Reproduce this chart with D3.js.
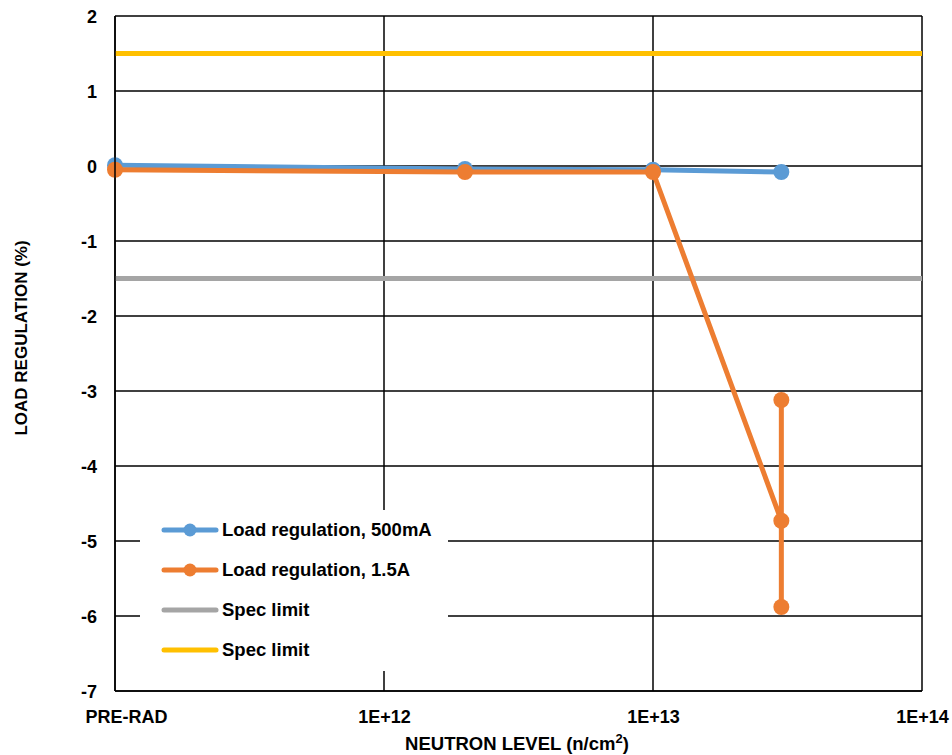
<!DOCTYPE html>
<html><head><meta charset="utf-8">
<script src="https://cdn.jsdelivr.net/npm/d3@7"></script>
<style>body{margin:0;background:#fff}svg{display:block}text{font-family:"Liberation Sans",Arial,sans-serif;font-weight:bold;fill:#000}</style>
</head><body><svg id="c" width="952" height="755"></svg>
<script>
const xTickValues = [1e11, 1e12, 1e13, 1e14];
const xTickLabels = ["PRE-RAD", "1E+12", "1E+13", "1E+14"];
const yTickValues = [2, 1, 0, -1, -2, -3, -4, -5, -6, -7];
const blueX = [1e11, 2e12, 1e13, 3e13];
const blueY = [0.01, -0.04, -0.05, -0.08];
const orangeX = [1e11, 2e12, 1e13, 3e13, 3e13, 3e13];
const orangeY = [-0.05, -0.08, -0.08, -4.73, -3.12, -5.88];
const specUpper = 1.5;
const specLower = -1.5;
const legendNames = ["Load regulation, 500mA", "Load regulation, 1.5A", "Spec limit", "Spec limit"];
const colors = ["#5b9bd5", "#ed7d31", "#a5a5a5", "#ffc000"];

const svg = d3.select("#c");
const L = 115, R = 922, T = 16, B = 691;
const x = d3.scaleLog().domain([1e11, 1e14]).range([L, R]);
const y = d3.scaleLinear().domain([-7, 2]).range([B, T]);
const FS = "18px";

// gridlines
svg.append("g").selectAll("line").data(yTickValues).join("line")
  .attr("x1", L).attr("x2", R).attr("y1", d => y(d)).attr("y2", d => y(d))
  .attr("stroke", "#000").attr("stroke-width", 1.5);
svg.append("g").selectAll("line").data(xTickValues).join("line")
  .attr("x1", d => x(d)).attr("x2", d => x(d)).attr("y1", T).attr("y2", B)
  .attr("stroke", "#000").attr("stroke-width", 1.5);

// axes labels
const yAxis = d3.axisLeft(y).tickValues(yTickValues).tickSize(0).tickPadding(18).tickFormat(d => String(d));
const ya = svg.append("g").attr("transform", `translate(${L},0)`).call(yAxis);
ya.select(".domain").remove();
ya.attr("font-size", null).attr("font-family", null);
ya.selectAll("text").style("font-size", FS).attr("dy", "0.35em");

const xAxis = d3.axisBottom(x).tickValues(xTickValues).tickSize(0).tickPadding(19).tickFormat((d, i) => xTickLabels[i]);
const xa = svg.append("g").attr("transform", `translate(0,${B})`).call(xAxis);
xa.select(".domain").remove();
xa.attr("font-size", null).attr("font-family", null);
xa.selectAll("text").style("font-size", FS).attr("dx", (d, i) => i === 0 ? 11 : 0);

// spec lines
svg.append("line").attr("x1", L).attr("x2", R).attr("y1", y(specLower)).attr("y2", y(specLower))
  .attr("stroke", colors[2]).attr("stroke-width", 5);
svg.append("line").attr("x1", L).attr("x2", R).attr("y1", y(specUpper)).attr("y2", y(specUpper))
  .attr("stroke", colors[3]).attr("stroke-width", 5);

// legend background
const lg = svg.append("g");
lg.append("rect").attr("x", 140).attr("y", 510).attr("width", 308).attr("height", 161).attr("fill", "#fff");

// series
const line = d3.line().x(d => x(d[0])).y(d => y(d[1]));
function series(xs, ys, col) {
  const pts = xs.map((v, i) => [v, ys[i]]);
  svg.append("path").datum(pts).attr("d", line).attr("fill", "none")
    .attr("stroke", col).attr("stroke-width", 5).attr("stroke-linejoin", "round");
  svg.append("g").selectAll("circle").data(pts).join("circle")
    .attr("cx", d => x(d[0])).attr("cy", d => y(d[1])).attr("r", 8).attr("fill", col);
}
series(blueX, blueY, colors[0]);
series(orangeX, orangeY, colors[1]);

// legend entries
legendNames.forEach((n, i) => {
  const yy = 530 + i * 40;
  lg.append("line").attr("x1", 164).attr("x2", 216).attr("y1", yy).attr("y2", yy)
    .attr("stroke", colors[i]).attr("stroke-width", 5).attr("stroke-linecap", "round");
  if (i < 2) lg.append("circle").attr("cx", 190).attr("cy", yy).attr("r", 6.5).attr("fill", colors[i]);
  lg.append("text").attr("x", 222).attr("y", yy).attr("dy", "0.35em").style("font-size", "18.5px").text(n);
});

// axis lines
svg.append("line").attr("x1", L).attr("x2", L).attr("y1", T).attr("y2", B).attr("stroke", "#000").attr("stroke-width", 1.5);
svg.append("line").attr("x1", L).attr("x2", R).attr("y1", B).attr("y2", B).attr("stroke", "#000").attr("stroke-width", 1.5);

// axis titles
const xt = svg.append("text").attr("x", 517).attr("y", 750).attr("text-anchor", "middle").style("font-size", "18.5px");
xt.append("tspan").text("NEUTRON LEVEL (n/cm");
xt.append("tspan").attr("dy", "-7").style("font-size", "13px").text("2");
xt.append("tspan").attr("dy", "7").text(")");
svg.append("text").attr("transform", "translate(27,338) rotate(-90)").attr("text-anchor", "middle")
  .style("font-size", "17px").text("LOAD REGULATION (%)");
</script></body></html>
